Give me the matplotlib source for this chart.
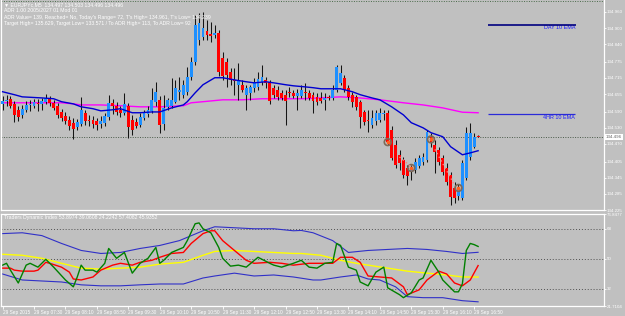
import matplotlib
matplotlib.use("Agg")
import matplotlib.pyplot as plt
import numpy as np

plt.rcParams['font.family'] = ['Liberation Sans', 'DejaVu Sans']

# ---------------- data: EURJPY M5 candles ----------------
bar_open = [134.618, 134.630, 134.637, 134.618, 134.596, 134.578, 134.596, 134.615, 134.611, 134.622,
            134.618, 134.626, 134.637, 134.622, 134.611, 134.589, 134.574, 134.559, 134.548, 134.533,
            134.544, 134.585, 134.559, 134.559, 134.555, 134.544, 134.548, 134.570, 134.622, 134.611,
            134.596, 134.585, 134.611, 134.559, 134.552, 134.540, 134.566, 134.581, 134.592, 134.626,
            134.633, 134.544, 134.607, 134.611, 134.626, 134.663, 134.652, 134.663, 134.719, 134.774,
            134.856, 134.867, 134.889, 134.878, 134.875, 134.882, 134.789, 134.774, 134.737, 134.708,
            134.689, 134.689, 134.652, 134.659, 134.678, 134.682, 134.700, 134.708, 134.700, 134.678,
            134.670, 134.659, 134.652, 134.663, 134.659, 134.648, 134.648, 134.663, 134.659, 134.652,
            134.644, 134.641, 134.633, 134.644, 134.641, 134.670, 134.696, 134.715, 134.678, 134.652,
            134.644, 134.626, 134.589, 134.559, 134.540, 134.555, 134.559, 134.581, 134.585, 134.522,
            134.466, 134.429, 134.411, 134.381, 134.366, 134.373, 134.388, 134.403, 134.411, 134.496,
            134.466, 134.448, 134.418, 134.381, 134.355, 134.307, 134.277, 134.270, 134.344, 134.422,
            134.459, 134.497]
bar_high = [134.648, 134.652, 134.648, 134.630, 134.611, 134.615, 134.630, 134.633, 134.637, 134.637,
            134.641, 134.656, 134.648, 134.633, 134.622, 134.600, 134.589, 134.574, 134.566, 134.563,
            134.644, 134.596, 134.578, 134.574, 134.566, 134.574, 134.585, 134.652, 134.637, 134.626,
            134.611, 134.659, 134.622, 134.578, 134.566, 134.585, 134.596, 134.611, 134.678, 134.700,
            134.648, 134.652, 134.641, 134.715, 134.708, 134.719, 134.708, 134.756, 134.793, 134.950,
            134.955, 134.961, 134.930, 134.923, 134.912, 134.893, 134.811, 134.789, 134.752, 134.752,
            134.771, 134.708, 134.689, 134.689, 134.715, 134.737, 134.763, 134.719, 134.708, 134.689,
            134.685, 134.670, 134.670, 134.682, 134.670, 134.674, 134.689, 134.696, 134.670, 134.663,
            134.659, 134.663, 134.659, 134.652, 134.689, 134.763, 134.763, 134.726, 134.689, 134.663,
            134.652, 134.633, 134.596, 134.596, 134.596, 134.596, 134.604, 134.596, 134.596, 134.537,
            134.485, 134.448, 134.422, 134.392, 134.392, 134.418, 134.429, 134.437, 134.522, 134.511,
            134.485, 134.459, 134.429, 134.399, 134.366, 134.329, 134.321, 134.411, 134.533, 134.548,
            134.511, 134.503]
bar_low = [134.596, 134.611, 134.604, 134.552, 134.555, 134.566, 134.589, 134.592, 134.604, 134.592,
           134.596, 134.618, 134.611, 134.596, 134.566, 134.555, 134.544, 134.522, 134.489, 134.522,
           134.537, 134.540, 134.537, 134.529, 134.522, 134.529, 134.537, 134.559, 134.581, 134.578,
           134.570, 134.578, 134.492, 134.503, 134.529, 134.533, 134.559, 134.570, 134.585, 134.611,
           134.511, 134.522, 134.596, 134.604, 134.622, 134.633, 134.641, 134.652, 134.708, 134.763,
           134.837, 134.856, 134.856, 134.849, 134.863, 134.722, 134.708, 134.682, 134.689, 134.652,
           134.633, 134.663, 134.596, 134.633, 134.663, 134.670, 134.689, 134.678, 134.618, 134.641,
           134.633, 134.633, 134.540, 134.644, 134.641, 134.596, 134.641, 134.633, 134.633, 134.585,
           134.615, 134.622, 134.596, 134.633, 134.633, 134.663, 134.689, 134.663, 134.633, 134.607,
           134.596, 134.529, 134.540, 134.515, 134.529, 134.540, 134.552, 134.559, 134.466, 134.411,
           134.381, 134.373, 134.344, 134.318, 134.336, 134.362, 134.381, 134.392, 134.403, 134.459,
           134.362, 134.392, 134.355, 134.318, 134.244, 134.251, 134.262, 134.262, 134.336, 134.411,
           134.455, 134.496]
bar_close = [134.630, 134.633, 134.611, 134.578, 134.570, 134.600, 134.615, 134.618, 134.626, 134.618,
             134.630, 134.641, 134.622, 134.604, 134.578, 134.566, 134.555, 134.537, 134.526, 134.552,
             134.596, 134.555, 134.555, 134.544, 134.540, 134.555, 134.574, 134.622, 134.611, 134.589,
             134.585, 134.618, 134.533, 134.522, 134.537, 134.570, 134.585, 134.596, 134.633, 134.663,
             134.540, 134.604, 134.633, 134.633, 134.678, 134.670, 134.689, 134.719, 134.774, 134.912,
             134.919, 134.901, 134.875, 134.871, 134.882, 134.737, 134.722, 134.726, 134.708, 134.704,
             134.708, 134.670, 134.678, 134.682, 134.700, 134.711, 134.719, 134.696, 134.630, 134.652,
             134.644, 134.641, 134.630, 134.659, 134.648, 134.659, 134.670, 134.659, 134.641, 134.630,
             134.626, 134.630, 134.641, 134.641, 134.670, 134.756, 134.734, 134.670, 134.644, 134.626,
             134.607, 134.570, 134.552, 134.555, 134.566, 134.585, 134.585, 134.585, 134.477, 134.418,
             134.392, 134.399, 134.355, 134.351, 134.381, 134.403, 134.418, 134.422, 134.515, 134.474,
             134.440, 134.403, 134.366, 134.329, 134.273, 134.270, 134.307, 134.399, 134.511, 134.511,
             134.496, 134.496]

# moving averages (bar index, price)
ema_fast_idx = [0, 3, 5, 10, 13, 15, 18, 20, 23, 25, 28, 30, 33, 35, 38, 40, 43, 46, 47, 49, 51, 54, 56,
                59, 62, 64, 67, 69, 72, 74, 77, 79, 81, 86, 89, 91, 94, 96, 99, 102, 104, 107, 109, 112,
                114, 117, 119, 121]
ema_fast_val = [134.664, 134.653, 134.645, 134.641, 134.638, 134.627, 134.619, 134.608, 134.601, 134.593,
                134.597, 134.601, 134.586, 134.586, 134.589, 134.589, 134.604, 134.615, 134.627, 134.660,
                134.690, 134.716, 134.716, 134.708, 134.701, 134.697, 134.701, 134.697, 134.690, 134.686,
                134.682, 134.679, 134.675, 134.675, 134.664, 134.653, 134.641, 134.634, 134.608, 134.578,
                134.549, 134.530, 134.512, 134.497, 134.460, 134.430, 134.437, 134.445]
ema_slow_idx = [0, 5, 10, 15, 18, 20, 25, 30, 35, 40, 46, 48, 51, 56, 61, 66, 71, 76, 81, 86, 91, 96,
                102, 107, 112, 117, 121]
ema_slow_val = [134.623, 134.623, 134.623, 134.623, 134.619, 134.615, 134.615, 134.612, 134.608, 134.608,
                134.612, 134.623, 134.627, 134.634, 134.634, 134.638, 134.638, 134.638, 134.641, 134.645,
                134.641, 134.634, 134.623, 134.615, 134.604, 134.588, 134.586]

# signal circles and trailing dots
signal_idx = [98, 104, 109, 116]
signal_price = [134.477, 134.381, 134.487, 134.307]
trail1_idx = [101, 104]
trail1_val = [134.422, 134.385]
trail2_idx = [110, 115]
trail2_val = [134.450, 134.318]

day_ema = 134.912
h4_ema = 134.582

price_ticks = [134.960, 134.900, 134.840, 134.775, 134.715, 134.655, 134.590, 134.530,
               134.470, 134.405, 134.345, 134.285, 134.225]

time_labels = ["29 Sep 2015", "29 Sep 07:30", "29 Sep 08:10", "29 Sep 08:50", "29 Sep 09:30",
               "29 Sep 10:10", "29 Sep 10:50", "29 Sep 11:30", "29 Sep 12:10", "29 Sep 12:50",
               "29 Sep 13:30", "29 Sep 14:10", "29 Sep 14:50", "29 Sep 15:30", "29 Sep 16:10",
               "29 Sep 16:50"]

# ---------------- Traders Dynamic Index ----------------
tdi_green_idx = [0, 1, 2, 4, 6, 7, 9, 11, 13, 16, 18, 19, 20, 21, 23, 24, 26, 27, 29, 31, 33, 35, 37, 39,
                 40, 41, 43, 46, 47, 49, 50, 51, 53, 55, 56, 58, 60, 62, 65, 68, 69, 71, 74, 76, 78, 80,
                 82, 84, 85, 86, 88, 90, 91, 93, 95, 97, 98, 101, 102, 104, 106, 107, 109, 111, 112, 115,
                 116, 117, 118, 119, 120, 121]
tdi_green_val = [46.2, 47.3, 43.2, 35.5, 46.2, 47.3, 45.0, 49.7, 45.0, 37.3, 33.2, 39.1, 46.2, 43.2, 43.2,
                 42.0, 47.3, 56.2, 50.3, 53.8, 41.4, 47.3, 50.3, 56.8, 47.3, 49.1, 53.8, 56.8, 60.9, 71.0,
                 71.5, 68.0, 65.6, 56.8, 50.3, 45.6, 46.2, 45.0, 50.9, 47.3, 46.2, 45.0, 47.3, 49.1, 45.0,
                 44.4, 47.3, 47.9, 59.2, 58.0, 45.0, 43.2, 36.1, 33.8, 42.0, 45.0, 32.6, 28.5, 26.7, 29.6,
                 37.3, 38.5, 49.1, 42.0, 37.3, 30.2, 30.2, 35.0, 55.0, 59.2, 58.5, 57.4082]
tdi_red_idx = [0, 2, 3, 5, 7, 8, 9, 11, 12, 15, 17, 18, 20, 23, 25, 28, 30, 33, 35, 38, 40, 43, 46, 48,
               51, 53, 54, 56, 59, 62, 64, 68, 71, 74, 78, 81, 84, 86, 89, 91, 93, 96, 99, 102, 103, 106,
               108, 111, 113, 115, 117, 119, 121]
tdi_red_val = [44.4, 44.4, 43.2, 42.6, 42.6, 42.6, 43.2, 47.9, 47.3, 45.0, 42.0, 37.9, 37.3, 39.1, 43.2,
               46.2, 47.3, 46.2, 47.9, 49.1, 50.9, 53.2, 53.8, 59.2, 65.1, 66.8, 66.8, 60.9, 55.0, 49.1,
               47.3, 47.9, 47.3, 46.2, 47.3, 47.3, 47.3, 50.9, 50.9, 47.9, 39.7, 39.1, 38.5, 33.2, 28.5,
               31.4, 37.3, 42.6, 40.9, 35.5, 33.8, 37.3, 45.9352]
tdi_base_idx = [0, 5, 10, 15, 20, 25, 30, 35, 40, 46, 51, 54, 59, 64, 69, 74, 76, 81, 86, 90, 93, 98,
                103, 108, 113, 117, 121]
tdi_base_val = [52.7, 52.1, 50.3, 47.3, 44.4, 43.8, 44.4, 45.0, 46.8, 47.9, 52.1, 54.4, 55.0, 54.4, 53.8,
                53.2, 53.2, 52.1, 49.1, 47.3, 46.2, 44.4, 42.6, 41.4, 40.3, 39.1, 39.0608]
tdi_up_idx = [0, 5, 10, 15, 20, 25, 30, 35, 40, 45, 51, 54, 59, 64, 69, 74, 76, 79, 84, 88, 93, 98, 103,
              108, 113, 117, 121]
tdi_up_val = [65.1, 65.6, 63.9, 59.2, 55.0, 53.2, 53.8, 56.2, 58.0, 60.9, 66.8, 69.2, 68.6, 68.0, 68.0,
              66.8, 67.0, 65.6, 60.9, 53.8, 55.0, 55.6, 56.2, 55.6, 54.4, 53.2, 53.8974]
tdi_dn_idx = [0, 5, 10, 15, 20, 25, 30, 35, 40, 46, 51, 54, 59, 64, 69, 74, 79, 81, 86, 90, 93, 96, 100,
              103, 107, 112, 117, 121]
tdi_dn_val = [40.9, 37.3, 36.7, 36.1, 34.4, 33.8, 33.8, 34.4, 34.9, 34.9, 38.5, 39.7, 41.4, 39.7, 40.3,
              39.1, 37.3, 37.3, 39.1, 40.3, 37.9, 37.3, 33.2, 27.3, 26.7, 26.7, 24.9, 24.2242]
tdi_levels = [32, 50, 68]
tdi_min, tdi_max = 21.7104, 76.8477

# ---------------- drawing ----------------
BG = "#C0C0C0"
W, H = 625, 316
fig = plt.figure(figsize=(W / 100, H / 100), dpi=100, facecolor=BG)
ax = fig.add_axes([1 / W, 1 - 210 / H, 603 / W, 210 / H], facecolor=BG)
axi = fig.add_axes([1 / W, 1 - 306 / H, 603 / W, 92 / H], facecolor=BG)

o = np.array(bar_open); h = np.array(bar_high); l = np.array(bar_low); c = np.array(bar_close)
n = len(c)
x = np.arange(n)
bar_px = 3.93
xlim = (-0.4, -0.4 + 603 / bar_px)

# candles
ax.vlines(x, l, h, color="#151515", lw=0.75, zorder=3)
up = c >= o
cols = np.where(up, "#1E90FF", "#FF0000")
body_bottom = np.minimum(o, c)
body_h = np.maximum(np.abs(c - o), 0.0022)
ax.bar(x, body_h, bottom=body_bottom, width=0.72, color=cols, linewidth=0, zorder=4)

# moving averages
ax.plot(ema_slow_idx, ema_slow_val, color="#FF00FF", lw=1.0, zorder=2)
ax.plot(ema_fast_idx, ema_fast_val, color="#0000D0", lw=1.0, zorder=5)

# signals
ax.scatter(signal_idx, signal_price, s=24, facecolors="none", edgecolors="#7d6a58", linewidths=1.2, zorder=6)
ax.scatter(signal_idx, signal_price, s=3, color="#FF6020", zorder=7)
ax.plot(trail1_idx, trail1_val, ls=(0, (1, 2)), color="#FF8080", lw=1.0, zorder=6)
ax.plot(trail2_idx, trail2_val, ls=(0, (1, 2)), color="#FF8080", lw=1.0, zorder=6)

# higher-timeframe EMA markers
ax.hlines(day_ema, 123.4, 145.8, color="#000080", lw=1.2, zorder=5)
ax.text(145.8, day_ema - 0.010, "DAY 10 EMA", color="#1a1aff", fontsize=3.9, ha="right", va="center")
ax.hlines(h4_ema, 123.6, 145.6, color="#2a2ad8", lw=0.9, zorder=5)
ax.text(145.6, h4_ema - 0.012, "4HR 10 EMA", color="#1a1aff", fontsize=3.9, ha="right", va="center")

# current price line
last = c[-1]
ax.axhline(last, color="#4a5a4a", ls=(0, (1, 1.5)), lw=0.7, zorder=1)
ax.plot([0, 1], [0.995, 0.995], transform=ax.transAxes, color="#4a6a4a", ls=(0, (1, 1.5)), lw=0.7)

ax.set_xlim(*xlim)
ax.set_ylim(134.225, 135.0045)
ax.set_xticks([])
ax.yaxis.tick_right()
ax.set_yticks(price_ticks)
ax.set_yticklabels(["%.3f" % t for t in price_ticks])
ax.tick_params(axis="y", labelsize=3.2, colors="white", length=1.5, width=0.6, pad=0.6)
for s in ["left", "right", "bottom"]:
    ax.spines[s].set_color("white"); ax.spines[s].set_linewidth(0.9)
ax.spines["top"].set_visible(False)
ax.text(1.003, last, "%.3f" % last, transform=ax.get_yaxis_transform(), fontsize=3.2,
        color="#606060", va="center", ha="left",
        bbox=dict(facecolor="white", edgecolor="none", pad=0.5))

# header text
hdr = ["\u25bc EURJPYc,M5  134.497 134.503 134.496 134.496",
       "ADR 1.00 2005/2027 01 Mod 01",
       "ADR Value= 139, Reached= No, Today's Range= 72, T's High= 134.961, T's Low= 134.239",
       "Target High= 135.629, Target Low= 133.571 / To ADR High= 113, To ADR Low= 92"]
for k, t in enumerate(hdr):
    fig.text(4 / W, 1 - (5 + 6 * k) / H, t, color="white", fontsize=3.7, va="center", ha="left")

# indicator
axi.plot(tdi_up_idx, tdi_up_val, color="#3030C8", lw=0.8)
axi.plot(tdi_dn_idx, tdi_dn_val, color="#3030C8", lw=0.8)
axi.plot(tdi_base_idx, tdi_base_val, color="#FFFF00", lw=1.0)
axi.plot(tdi_red_idx, tdi_red_val, color="#FF0000", lw=1.0)
axi.plot(tdi_green_idx, tdi_green_val, color="#008000", lw=1.0)
for lv in tdi_levels:
    axi.axhline(lv, color="#505050", ls=(0, (1, 2)), lw=0.7, zorder=0)
axi.set_xlim(*xlim)
axi.set_ylim(tdi_min, tdi_max)
axi.yaxis.tick_right()
yt = [tdi_min] + tdi_levels + [tdi_max]
axi.set_yticks(yt)
axi.set_yticklabels(["21.7104", "32", "50", "68", "76.8477"])
axi.tick_params(axis="y", labelsize=3.2, colors="white", length=1.5, width=0.6, pad=0.6)
axi.set_xticks(np.arange(0, n, 8))
axi.set_xticklabels(time_labels, ha="left")
axi.tick_params(axis="x", labelsize=3.4, colors="white", length=2, width=0.6, pad=1)
for s in ["left", "right", "bottom", "top"]:
    axi.spines[s].set_color("white"); axi.spines[s].set_linewidth(0.9)
axi.text(0.005, 0.985, "Traders Dynamic Index 53.8974 39.0608 24.2242 57.4082 45.9352",
         transform=axi.transAxes, color="white", fontsize=3.7, va="top", ha="left")

fig.savefig("out.png", dpi=100, facecolor=BG)
